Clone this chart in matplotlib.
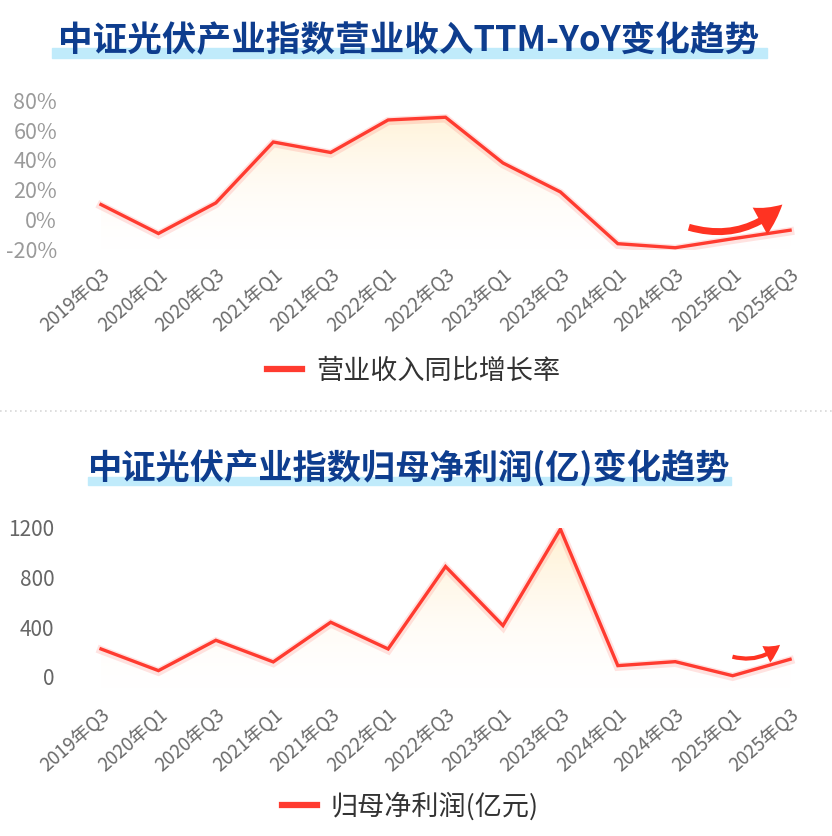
import numpy as np
import matplotlib
matplotlib.use("Agg")
import matplotlib.pyplot as plt
import matplotlib.patheffects as pe
from matplotlib.lines import Line2D
from matplotlib.patches import Rectangle, FancyArrowPatch
from matplotlib.colors import LinearSegmentedColormap

plt.rcParams['font.family'] = ['Noto Sans CJK SC', 'DejaVu Sans']

# data
quarters = ["2019年Q3", "2020年Q1", "2020年Q3", "2021年Q1", "2021年Q3", "2022年Q1", "2022年Q3",
            "2023年Q1", "2023年Q3", "2024年Q1", "2024年Q3", "2025年Q1", "2025年Q3"]
revenue_yoy = [10.3, -9.0, 11.4, 52.0, 45.0, 66.7, 68.5, 38.0, 18.7, -15.8, -18.5, -12.5, -6.8]
net_profit = [225, 51, 295, 121, 440, 225, 888, 413, 1189, 91, 123, 10, 142]

yoy_ticks = [-20, 0, 20, 40, 60, 80]
profit_ticks = [0, 400, 800, 1200]

title_top = "中证光伏产业指数营业收入TTM-YoY变化趋势"
title_bottom = "中证光伏产业指数归母净利润(亿)变化趋势"
legend_top = "营业收入同比增长率"
legend_bottom = "归母净利润(亿元)"

RED = "#ff3b30"
NAVY = "#0e3d8e"
BAND = "#c0ebfb"

W, H = 832, 836
fig = plt.figure(figsize=(W / 100, H / 100), dpi=100, facecolor="white")


def px_axes(left, top, right, bottom):
    return fig.add_axes([left / W, 1 - bottom / H, (right - left) / W, (bottom - top) / H])


fill_cmap = LinearSegmentedColormap.from_list(
    "fill", [(1.0, 0.98, 0.96, 0.0), (1.0, 0.94, 0.80, 0.9)])


def draw_panel(ax, values, ylim, yticks, ylabels, ycolor, ysize, ypad):
    x = np.arange(len(quarters))
    poly = ax.fill_between(x, values, ylim[0], color="none", lw=0)
    grad = np.linspace(1, 0, 256).reshape(-1, 1)
    img = ax.imshow(grad, extent=[x[0], x[-1], ylim[0], ylim[1]], aspect="auto",
                    cmap=fill_cmap, origin="upper", zorder=1)
    img.set_clip_path(poly.get_paths()[0], transform=ax.transData)

    ax.plot(x, values, color=RED, lw=2.4, zorder=3, solid_joinstyle="miter",
            path_effects=[pe.SimpleLineShadow(offset=(0, -0.8), shadow_color=RED,
                                              alpha=0.14, rho=1, linewidth=6),
                          pe.Normal()])

    ax.set_xlim(-0.5, len(quarters) - 0.5)
    ax.set_ylim(*ylim)
    ax.set_xticks(x, quarters, rotation=41, ha="right", va="top",
                  rotation_mode="anchor", fontsize=13.5, color="#6a6a6a")
    ax.tick_params(axis="x", length=0, pad=11)
    ax.set_yticks(yticks, ylabels)
    ax.tick_params(axis="y", length=0, pad=ypad, labelsize=ysize, labelcolor=ycolor)
    for s in ax.spines.values():
        s.set_visible(False)
    ax.patch.set_alpha(0)


def title_with_band(text, cx, cy, band, size):
    x0, y0, x1, y1 = band
    fig.patches.append(Rectangle((x0 / W, 1 - y1 / H), (x1 - x0) / W, (y1 - y0) / H,
                                 transform=fig.transFigure, color=BAND, zorder=0))
    fig.text(cx / W, 1 - cy / H, text, ha="center", va="center", fontsize=size,
             fontweight="bold", color=NAVY, zorder=2)


def legend_below(ax, label, cx, cy):
    ax.legend(handles=[Line2D([], [], color=RED, lw=4.5)], labels=[label], loc="center",
              bbox_to_anchor=(cx / W, 1 - cy / H), bbox_transform=fig.transFigure,
              frameon=False, fontsize=19.5, handlelength=1.3, handletextpad=0.5,
              labelcolor="#333333")


arrow_style = "simple,head_length=1.0,head_width=1.1,tail_width=0.25"

# top panel: revenue yoy
ax1 = px_axes(72.3, 100, 818.8, 250)
draw_panel(ax1, revenue_yoy, (-20, 80), yoy_ticks, [f"{v}%" for v in yoy_ticks],
           "#9a9a9a", 15.5, 11)
ax1.add_patch(FancyArrowPatch((10.19, -4.3), (11.9, 11.6), arrowstyle=arrow_style,
                              connectionstyle="arc3,rad=0.3", mutation_scale=20,
                              color="#ff3322", lw=0, zorder=4))
title_with_band(title_top, 409, 41, (52, 48, 767, 58), 24.9)
legend_below(ax1, legend_top, 413.5, 371)

# separator
fig.add_artist(Line2D([0, 1], [1 - 411 / H] * 2, transform=fig.transFigure,
                      color="#d8d8d8", lw=1.2, linestyle=(0, (1, 2))))

# bottom panel: net profit
ax2 = px_axes(72.3, 527.7, 818.8, 689.4)
draw_panel(ax2, net_profit, (-100, 1200), profit_ticks, [str(v) for v in profit_ticks],
           "#666666", 15, 13)
ax2.add_patch(FancyArrowPatch((10.95, 169), (11.86, 274), arrowstyle=arrow_style,
                              connectionstyle="arc3,rad=0.3", mutation_scale=12,
                              color="#ff3322", lw=0, zorder=4))
title_with_band(title_bottom, 409, 468, (88, 476.7, 731, 485), 24.7)
legend_below(ax2, legend_bottom, 410, 806)

fig.savefig("out.png", dpi=100, facecolor="white")
